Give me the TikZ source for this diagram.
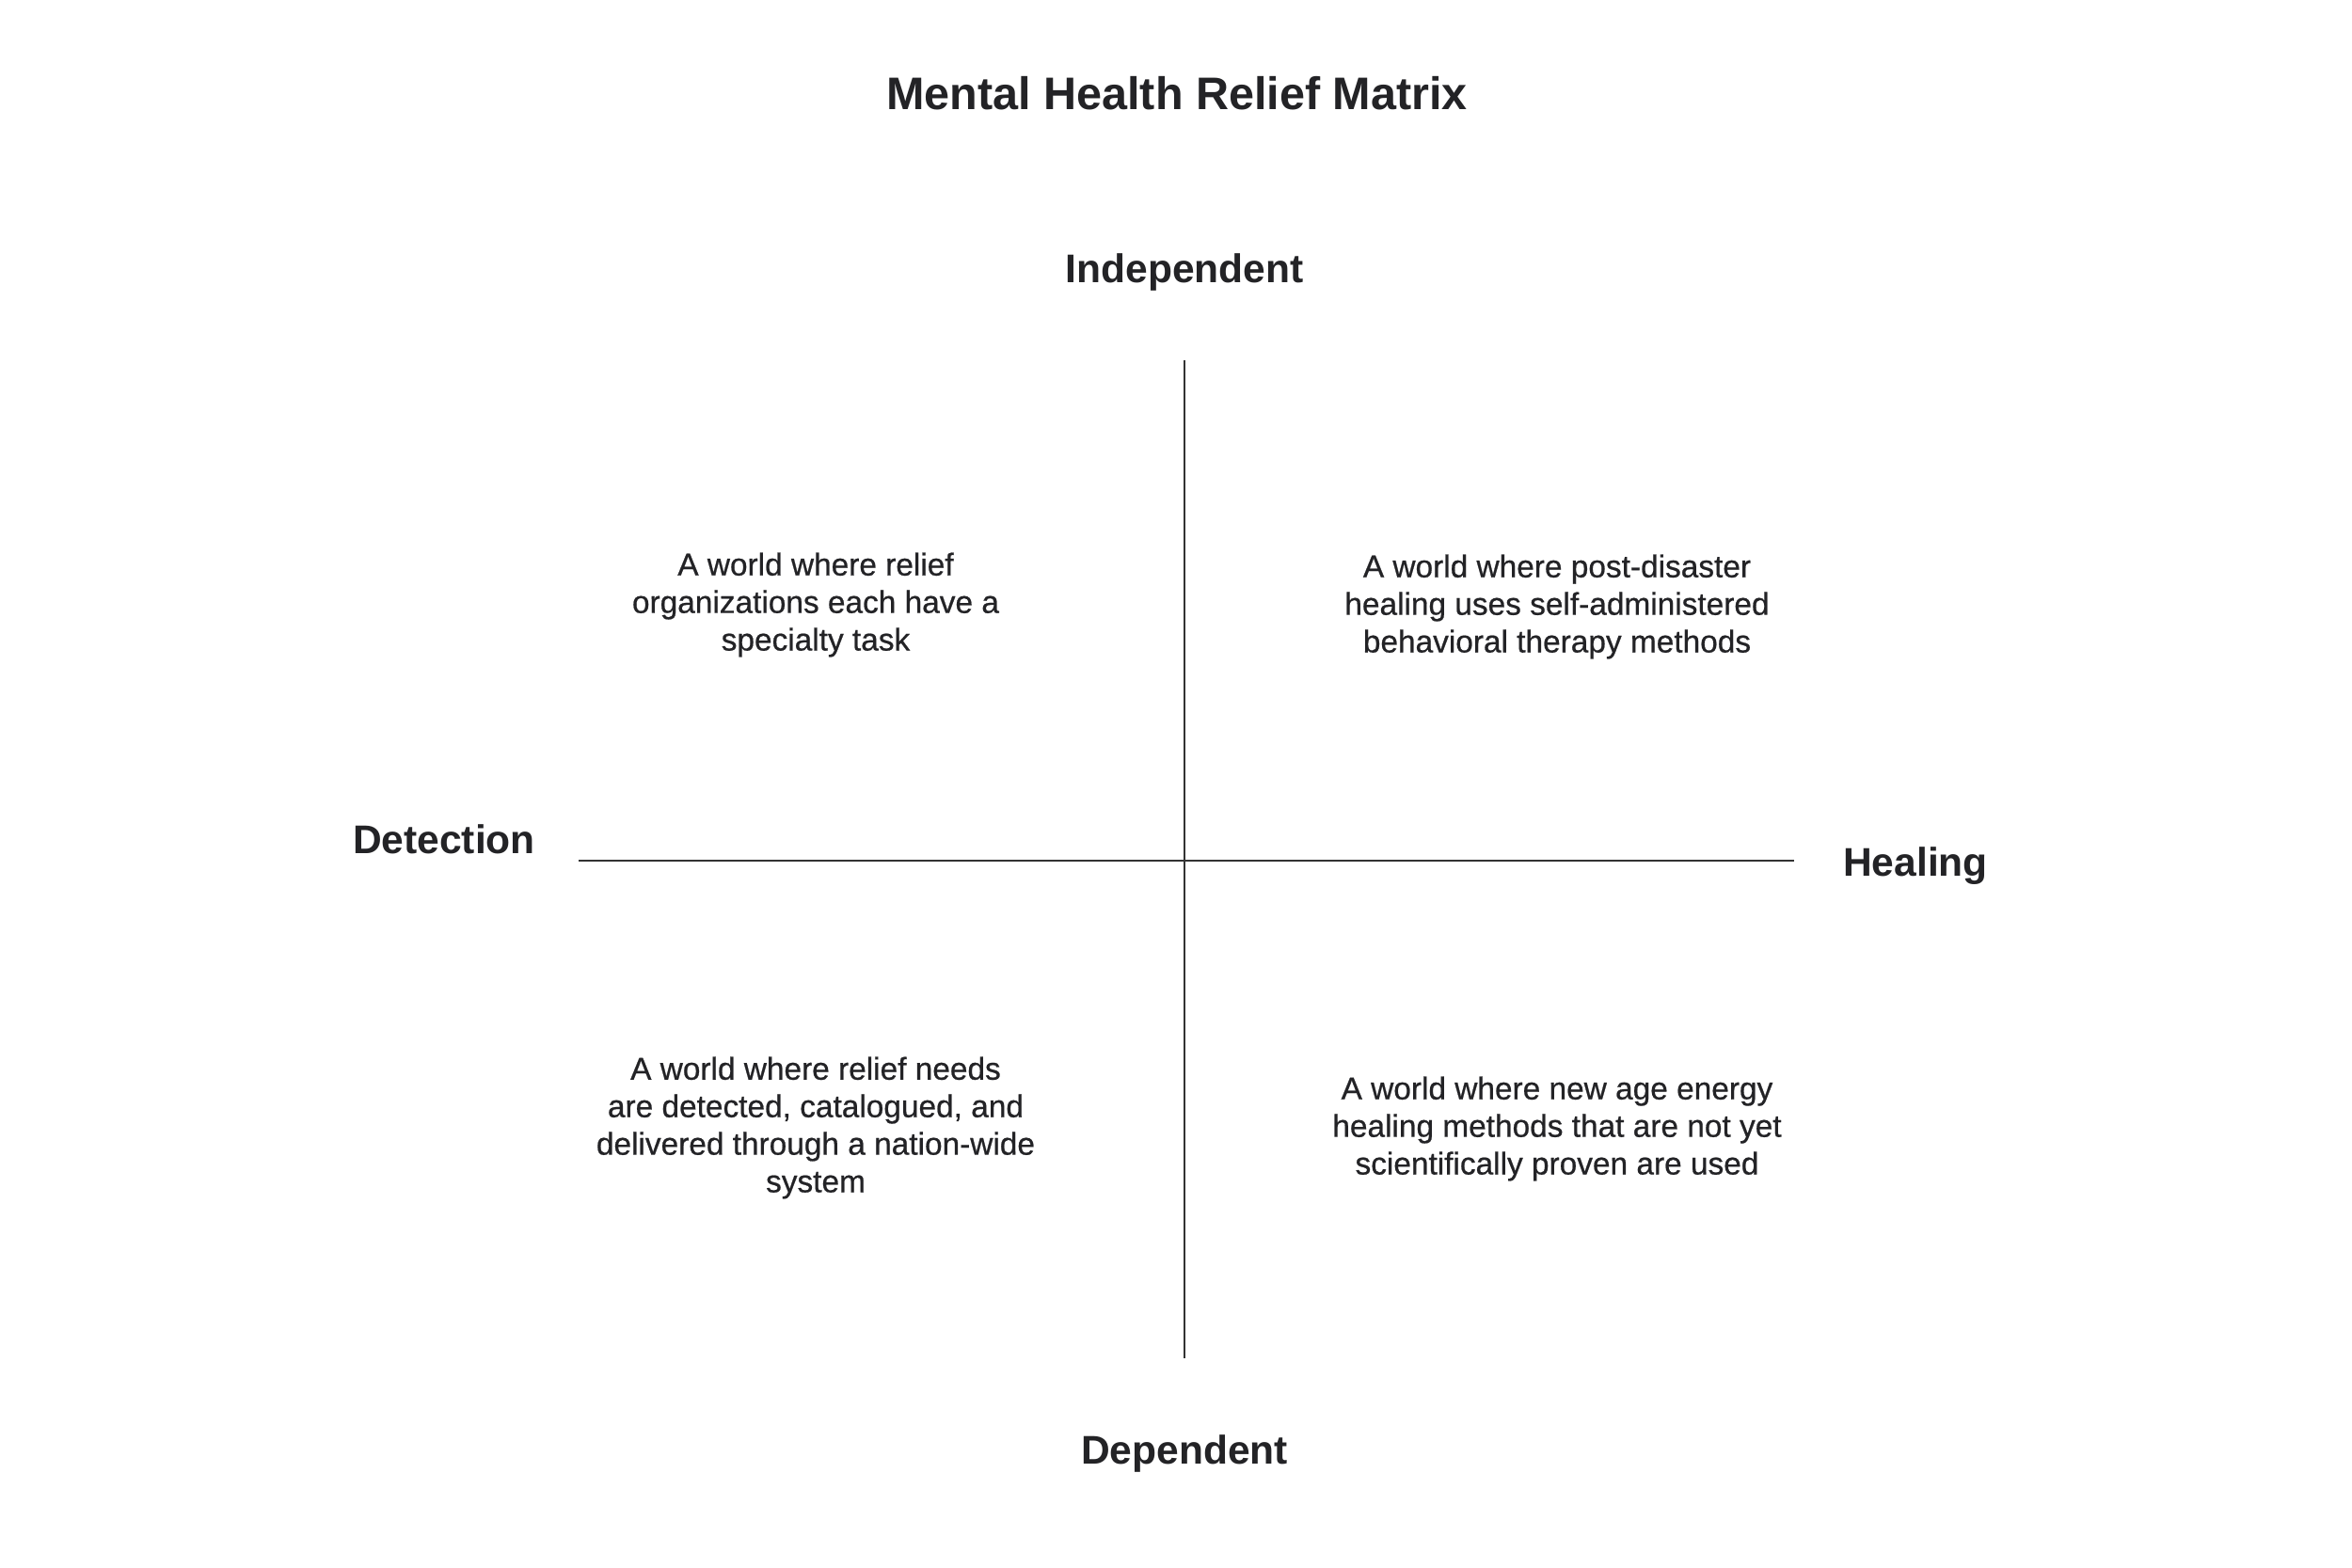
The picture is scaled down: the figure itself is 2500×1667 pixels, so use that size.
\documentclass[tikz,border=0pt]{standalone}
\usepackage{fontspec}
\setmainfont{Liberation Sans}
\newfontfamily\medfont[FakeBold=0.6]{Liberation Sans}
\definecolor{ink}{HTML}{232326}
\definecolor{axis}{HTML}{333333}
\begin{document}
\begin{tikzpicture}[x=0.01cm,y=-0.01cm,
  titlefont/.style={font=\fontsize{13.8}{17}\selectfont\bfseries, text=ink},
  axislabel/.style={font=\fontsize{12.1}{15}\selectfont\bfseries, text=ink},
  quadtext/.style={font=\fontsize{9.5}{11.35}\selectfont\medfont, text=ink, align=center},
  axisline/.style={draw=axis, line width=0.75pt}]
\useasboundingbox (0,0) rectangle (2500,1667);
\fill[white] (0,0) rectangle (2500,1667);
\node[titlefont] (title) at (1251,99) {Mental Health Relief Matrix};
\node[axislabel] (indep) at (1259,290) {Independent};
\node[axislabel] (dep) at (1259,1545) {Dependent};
\node[axislabel] (detect) at (472,892) {Detection};
\node[axislabel] (heal) at (2036,921) {Healing};
\coordinate (vtop) at (1259,383);
\coordinate (vbot) at (1259,1444);
\coordinate (hleft) at (615,915);
\coordinate (hright) at (1907,915);
\draw[axisline] (vtop) -- (vbot);
\draw[axisline] (hleft) -- (hright);
\node[quadtext] (tl) at (867,643) {A world where relief\\organizations each have a\\specialty task};
\node[quadtext] (tr) at (1655,645) {A world where post-disaster\\healing uses self-administered\\behavioral therapy methods};
\node[quadtext] (bl) at (867,1199) {A world where relief needs\\are detected, catalogued, and\\delivered through a nation-wide\\system};
\node[quadtext] (br) at (1655,1200) {A world where new age energy\\healing methods that are not yet\\scientifically proven are used};
\end{tikzpicture}
\end{document}
